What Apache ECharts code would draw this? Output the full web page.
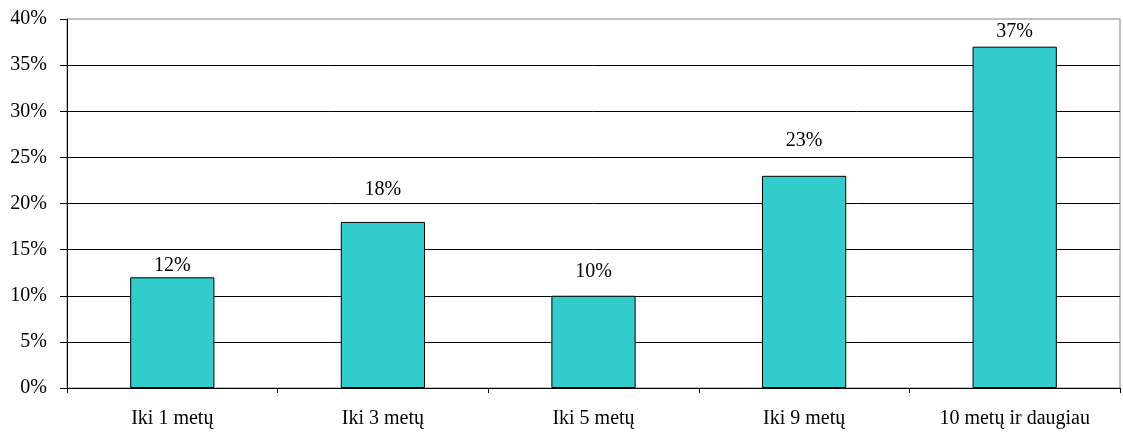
<!DOCTYPE html>
<html>
<head>
<meta charset="utf-8">
<script src="https://cdn.jsdelivr.net/npm/echarts@6/dist/echarts.min.js"></script>
<style>
  html, body { margin: 0; padding: 0; background: #fff; }
  #chart { width: 1123px; height: 434px; }
</style>
</head>
<body>
<div id="chart"></div>
<script>
// Share of respondents by length of period
const categories = ['Iki 1 metų', 'Iki 3 metų', 'Iki 5 metų', 'Iki 9 metų', '10 metų ir daugiau'];
const shares = [12, 18, 10, 23, 37];
const yTicks = [0, 5, 10, 15, 20, 25, 30, 35, 40];

// gap between each bar top and its value label
const labelLift = [2, 22, 14, 25, 5];

const font = '"Liberation Serif", "Times New Roman", serif';
const fontSize = 20;

const chart = echarts.init(document.getElementById('chart'), null, { renderer: 'canvas' });

chart.setOption({
  animation: false,
  backgroundColor: '#ffffff',
  grid: {
    left: 67, right: 3, top: 19, bottom: 46,
    show: true,
    borderColor: '#808080',
    borderWidth: 1,
    backgroundColor: 'transparent'
  },
  xAxis: {
    type: 'category',
    data: categories,
    boundaryGap: true,
    axisLine: { show: true, lineStyle: { color: '#000', width: 1 } },
    axisTick: { show: true, alignWithLabel: false, inside: false, length: 5, lineStyle: { color: '#000' } },
    axisLabel: { color: '#000', fontFamily: font, fontSize: fontSize, margin: 21 },
    splitLine: { show: false }
  },
  yAxis: {
    type: 'value',
    min: yTicks[0],
    max: yTicks[yTicks.length - 1],
    interval: yTicks[1] - yTicks[0],
    axisLine: { show: true, lineStyle: { color: '#000', width: 1 } },
    axisTick: { show: true, inside: false, length: 7, lineStyle: { color: '#000' } },
    axisLabel: {
      color: '#000', fontFamily: font, fontSize: fontSize, margin: 20,
      formatter: v => v + '%'
    },
    splitLine: { show: true, showMaxLine: false, lineStyle: { color: '#000', width: 1 } }
  },
  series: [{
    type: 'bar',
    barWidth: '40%',
    data: shares.map((v, i) => ({
      value: v,
      label: { distance: labelLift[i] }
    })),
    itemStyle: { color: '#33CCCC', borderColor: '#000', borderWidth: 1 },
    label: {
      show: true,
      position: 'top',
      color: '#000',
      fontFamily: font,
      fontSize: fontSize,
      formatter: p => p.value + '%'
    }
  }]
});
</script>
</body>
</html>
